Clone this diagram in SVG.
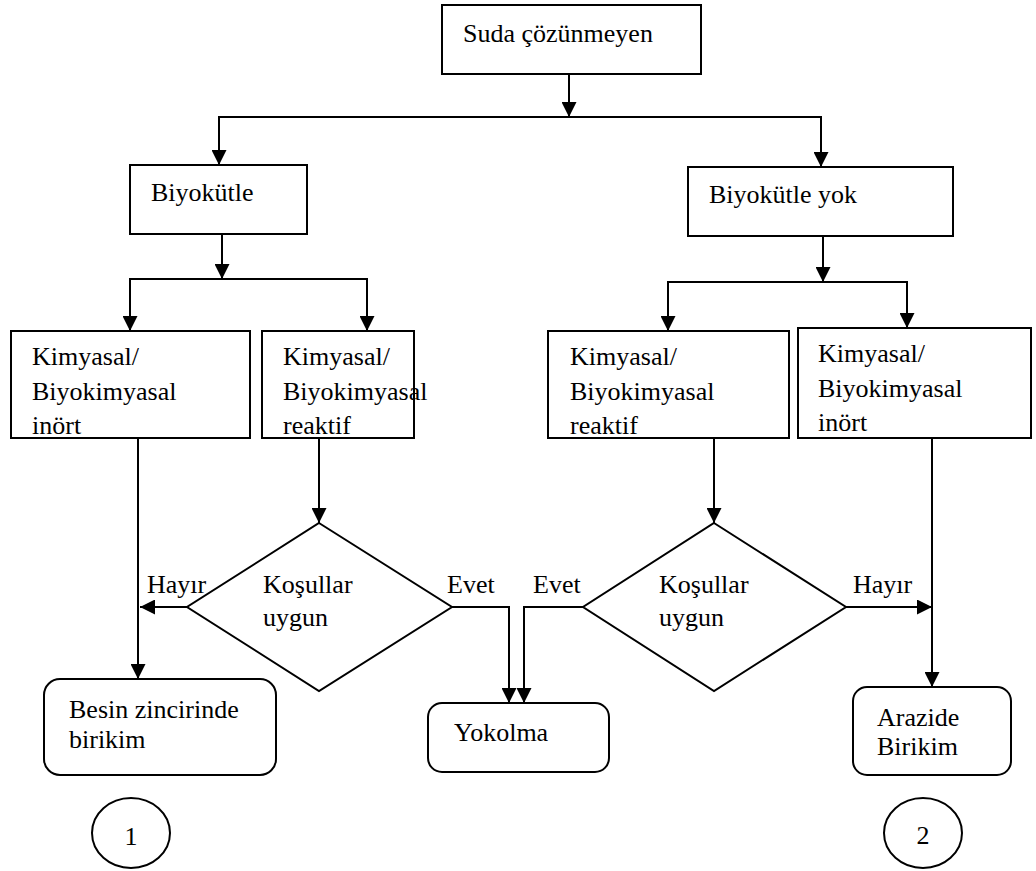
<svg xmlns="http://www.w3.org/2000/svg" width="1036" height="871" viewBox="0 0 1036 871">
  <style>
    .box { fill: #fff; stroke: #000; stroke-width: 2; }
    .line { fill: none; stroke: #000; stroke-width: 2; }
    .t { font-family: "Liberation Serif", "Times New Roman", serif; font-size: 26px; fill: #000; }
  </style>
  <defs>
    <marker id="arrow" markerUnits="userSpaceOnUse" markerWidth="15" markerHeight="15" refX="15" refY="7.5" orient="auto">
      <path d="M0,0 L15,7.5 L0,15 z" fill="#000"/>
    </marker>
  </defs>
  <rect width="1036" height="871" fill="#fff"/>

  <!-- connectors -->
  <g id="connectors" class="line" marker-end="url(#arrow)">
    <line x1="569" y1="74" x2="569" y2="117"/>
    <polyline points="569,117 219,117 219,165" />
    <polyline points="569,117 821,117 821,167" />
    <line x1="222" y1="234" x2="222" y2="279"/>
    <polyline points="222,279 130,279 130,331" />
    <polyline points="222,279 367,279 367,331" />
    <line x1="823" y1="236" x2="823" y2="282"/>
    <polyline points="823,282 668,282 668,331" />
    <polyline points="823,282 907,282 907,328" />
    <line x1="138" y1="438" x2="138" y2="679"/>
    <line x1="187" y1="607" x2="140" y2="607"/>
    <line x1="319" y1="438" x2="319" y2="523"/>
    <polyline points="452,607 509,607 509,703" />
    <polyline points="583,607 524,607 524,703" />
    <line x1="714" y1="438" x2="714" y2="523"/>
    <line x1="932" y1="438" x2="932" y2="687"/>
    <line x1="846" y1="607" x2="932" y2="607"/>
  </g>

  <!-- process boxes -->
  <g id="n-suda">
    <rect class="box" x="442" y="5" width="259" height="69"/>
    <text class="t" x="463" y="42">Suda çözünmeyen</text>
  </g>
  <g id="n-biyokutle">
    <rect class="box" x="130" y="165" width="177" height="69"/>
    <text class="t" x="151" y="201">Biyokütle</text>
  </g>
  <g id="n-biyokutle-yok">
    <rect class="box" x="688" y="167" width="265" height="69"/>
    <text class="t" x="709" y="203">Biyokütle yok</text>
  </g>
  <g id="n-inert-left">
    <rect class="box" x="11" y="331" width="239" height="107"/>
    <text class="t" x="32" y="365">Kimyasal/</text>
    <text class="t" x="32" y="400">Biyokimyasal</text>
    <text class="t" x="32" y="434">inört</text>
  </g>
  <g id="n-reactive-left">
    <rect class="box" x="262" y="331" width="152" height="107"/>
    <text class="t" x="283" y="365">Kimyasal/</text>
    <text class="t" x="283" y="400">Biyokimyasal</text>
    <text class="t" x="283" y="434">reaktif</text>
  </g>
  <g id="n-reactive-right">
    <rect class="box" x="548" y="331" width="241" height="107"/>
    <text class="t" x="570" y="365">Kimyasal/</text>
    <text class="t" x="570" y="400">Biyokimyasal</text>
    <text class="t" x="570" y="434">reaktif</text>
  </g>
  <g id="n-inert-right">
    <rect class="box" x="798" y="328" width="233" height="110"/>
    <text class="t" x="818" y="362">Kimyasal/</text>
    <text class="t" x="818" y="397">Biyokimyasal</text>
    <text class="t" x="818" y="431">inört</text>
  </g>

  <!-- decisions -->
  <g id="n-decision-left">
    <polygon class="box" points="319,523 452,607 319,691 187,607"/>
    <text class="t" x="263" y="593">Koşullar</text>
    <text class="t" x="263" y="626">uygun</text>
    <text class="t" x="147" y="593">Hayır</text>
    <text class="t" x="447" y="593">Evet</text>
  </g>
  <g id="n-decision-right">
    <polygon class="box" points="714,523 846,607 714,691 583,607"/>
    <text class="t" x="659" y="593">Koşullar</text>
    <text class="t" x="659" y="626">uygun</text>
    <text class="t" x="533" y="593">Evet</text>
    <text class="t" x="853" y="593">Hayır</text>
  </g>

  <!-- outcomes -->
  <g id="n-besin">
    <rect class="box" x="44" y="679" width="232" height="96" rx="16"/>
    <text class="t" x="69" y="718">Besin zincirinde</text>
    <text class="t" x="69" y="748">birikim</text>
  </g>
  <g id="n-yokolma">
    <rect class="box" x="428" y="703" width="181" height="69" rx="14"/>
    <text class="t" x="454" y="741">Yokolma</text>
  </g>
  <g id="n-arazide">
    <rect class="box" x="853" y="687" width="158" height="88" rx="14"/>
    <text class="t" x="877" y="726">Arazide</text>
    <text class="t" x="877" y="755">Birikim</text>
  </g>

  <!-- numbered markers -->
  <g id="n-one">
    <ellipse class="box" cx="131" cy="833" rx="39" ry="35"/>
    <text class="t" x="131" y="845" text-anchor="middle">1</text>
  </g>
  <g id="n-two">
    <ellipse class="box" cx="923" cy="833" rx="39" ry="35"/>
    <text class="t" x="923" y="844" text-anchor="middle">2</text>
  </g>
</svg>
